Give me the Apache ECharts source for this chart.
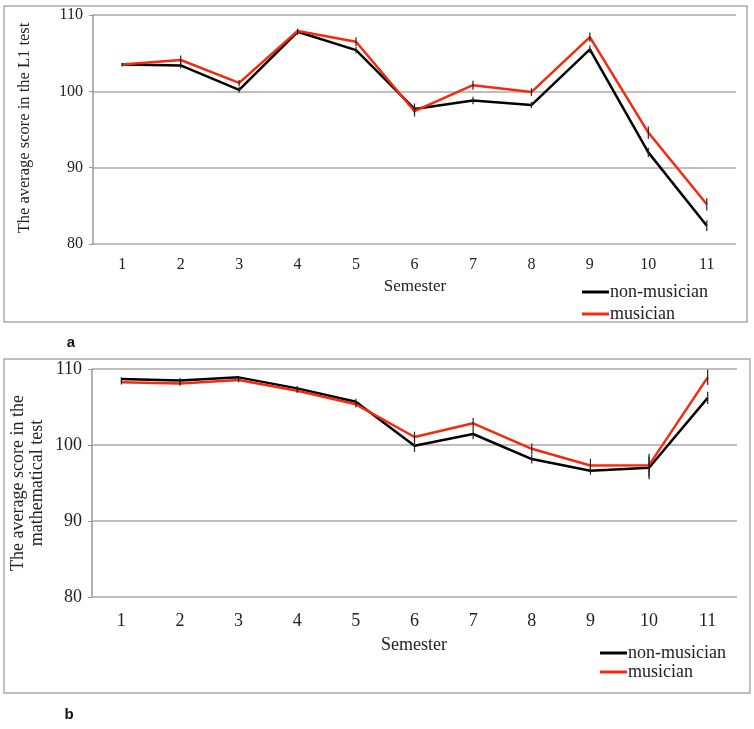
<!DOCTYPE html>
<html><head><meta charset="utf-8">
<script src="https://cdn.jsdelivr.net/npm/echarts@6/dist/echarts.min.js"></script>
<style>html,body{margin:0;padding:0;background:#fff}#c{width:754px;height:729px}</style>
</head><body><div id="c"></div>
<script>
const semesters = ['1','2','3','4','5','6','7','8','9','10','11'];
const yTicks = [80, 90, 100, 110];
// Panel a: L1 test
const l1NonMusician = [103.5, 103.4, 100.2, 107.8, 105.4, 97.7, 98.8, 98.2, 105.5, 92.0, 82.4];
const l1Musician    = [103.5, 104.1, 101.1, 107.9, 106.5, 97.4, 100.8, 99.9, 107.1, 94.6, 85.2];
const l1NonMusicianErr = [0.2, 0.4, 0.4, 0.4, 0.4, 0.7, 0.5, 0.4, 0.5, 0.6, 0.7];
const l1MusicianErr    = [0.2, 0.6, 0.4, 0.3, 0.6, 0.7, 0.6, 0.5, 0.6, 0.8, 0.8];
// Panel b: mathematical test
const mathNonMusician = [108.7, 108.5, 108.9, 107.45, 105.7, 99.9, 101.45, 98.15, 96.6, 97.0, 106.2];
const mathMusician    = [108.25, 108.1, 108.55, 107.15, 105.35, 101.05, 102.85, 99.5, 97.3, 97.35, 108.9];
const mathNonMusicianErr = [0.2, 0.3, 0.2, 0.3, 0.4, 0.8, 0.7, 0.6, 0.5, 1.5, 0.8];
const mathMusicianErr    = [0.3, 0.3, 0.3, 0.3, 0.4, 0.7, 0.7, 0.7, 0.9, 1.5, 1.0];

const serif = 'Liberation Serif';
const chart = echarts.init(document.getElementById('c'));

function errSeries(idx, vals, errs) {
  return {
    type: 'custom', xAxisIndex: idx, yAxisIndex: idx, silent: true, z: 5,
    data: vals.map((v, i) => [i, v - errs[i], v + errs[i]]),
    renderItem: function (params, api) {
      const lo = api.coord([api.value(0), api.value(1)]);
      const hi = api.coord([api.value(0), api.value(2)]);
      return { type: 'line', shape: { x1: lo[0], y1: lo[1], x2: hi[0], y2: hi[1] },
               style: { stroke: '#222', lineWidth: 1.2 } };
    }
  };
}
function lineSeries(idx, name, vals, color) {
  return { type: 'line', name: name, xAxisIndex: idx, yAxisIndex: idx, data: vals,
           symbol: 'none', lineStyle: { color: color, width: 2.5 }, itemStyle: { color: color }, z: 3 };
}
function xAx(idx, size) {
  return { type: 'category', gridIndex: idx, data: semesters, boundaryGap: true,
           axisLine: { show: false }, axisTick: { show: false },
           axisLabel: { fontFamily: serif, fontSize: size, color: '#222', margin: idx === 0 ? 13 : 15 } };
}
function yAx(idx, size) {
  return { type: 'value', gridIndex: idx, min: yTicks[0], max: yTicks[yTicks.length - 1], interval: 10,
           axisLine: { show: true, lineStyle: { color: '#999', width: 1.5 } },
           axisTick: { show: true, length: 4, lineStyle: { color: '#999' } },
           splitLine: { show: true, lineStyle: { color: '#aaa', width: 1.5 } },
           axisLabel: { fontFamily: serif, fontSize: size, color: '#222', margin: 10 } };
}
function legendAt(left, top, gap) {
  return { orient: 'vertical', left: left, top: top, itemWidth: 27, itemHeight: 3, itemGap: gap,
           icon: 'rect', data: ['non-musician', 'musician'], selectedMode: false,
           textStyle: { fontFamily: serif, fontSize: 18, color: '#222', padding: [0, 0, 0, -4] } };
}

chart.setOption({
  animation: false,
  backgroundColor: '#fff',
  grid: [
    { left: 93, right: 18, top: 15, height: 229 },
    { left: 92, right: 17, top: 369, height: 228 }
  ],
  xAxis: [xAx(0, 16), xAx(1, 18)],
  yAxis: [yAx(0, 16), yAx(1, 18)],
  legend: [legendAt(577, 278, 4), legendAt(595, 639, 1)],
  series: [
    lineSeries(0, 'non-musician', l1NonMusician, '#000'),
    lineSeries(0, 'musician', l1Musician, '#f52a0c'),
    errSeries(0, l1NonMusician, l1NonMusicianErr),
    errSeries(0, l1Musician, l1MusicianErr),
    lineSeries(1, 'non-musician', mathNonMusician, '#000'),
    lineSeries(1, 'musician', mathMusician, '#f52a0c'),
    errSeries(1, mathNonMusician, mathNonMusicianErr),
    errSeries(1, mathMusician, mathMusicianErr)
  ],
  graphic: [
    { type: 'rect', shape: { x: 4, y: 6, width: 743, height: 316 }, style: { fill: 'none', stroke: '#aaa', lineWidth: 1.5 }, z: -1 },
    { type: 'rect', shape: { x: 4, y: 359, width: 746, height: 334 }, style: { fill: 'none', stroke: '#aaa', lineWidth: 1.5 }, z: -1 },
    { type: 'text', x: 25, y: 128, rotation: Math.PI / 2, style: { text: 'The average score in the L1 test', fontFamily: serif, fontSize: 16.5, fill: '#222', align: 'center', verticalAlign: 'middle' } },
    { type: 'text', x: 28, y: 483, rotation: Math.PI / 2, style: { text: 'The average score in the\nmathematical test', fontFamily: serif, fontSize: 18, lineHeight: 19, fill: '#222', align: 'center', verticalAlign: 'middle' } },
    { type: 'text', x: 415, y: 287, style: { text: 'Semester', fontFamily: serif, fontSize: 17, fill: '#222', align: 'center', verticalAlign: 'middle' } },
    { type: 'text', x: 414, y: 645, style: { text: 'Semester', fontFamily: serif, fontSize: 18, fill: '#222', align: 'center', verticalAlign: 'middle' } },
    { type: 'text', x: 71, y: 343, style: { text: 'a', fontFamily: 'Liberation Sans', fontWeight: 'bold', fontSize: 15, fill: '#111', align: 'center', verticalAlign: 'middle' } },
    { type: 'text', x: 69, y: 715, style: { text: 'b', fontFamily: 'Liberation Sans', fontWeight: 'bold', fontSize: 15, fill: '#111', align: 'center', verticalAlign: 'middle' } }
  ]
});
</script></body></html>
